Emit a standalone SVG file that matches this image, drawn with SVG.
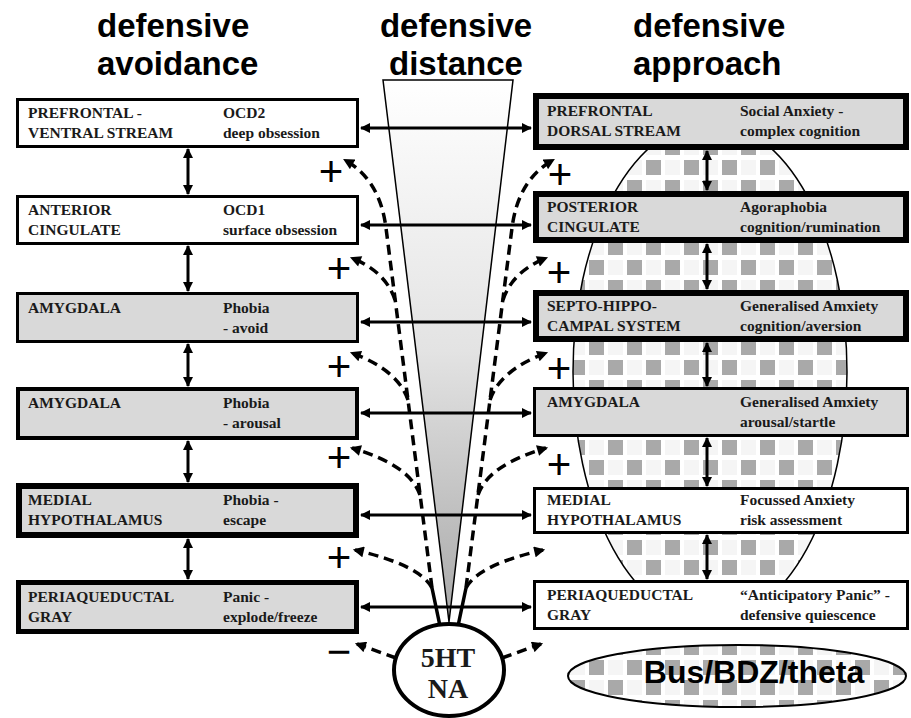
<svg xmlns="http://www.w3.org/2000/svg" width="911" height="718" viewBox="0 0 911 718">
<style>
.title{font-family:"Liberation Sans",Arial,sans-serif;font-weight:bold;font-size:33px;fill:#000}
.bx{stroke:#000}
.g{fill:#d9d9d9}
.w{fill:#fff}
.t{font-family:"Liberation Serif","Times New Roman",serif;font-weight:bold;font-size:15.5px;fill:#1a1a1a}
.sign{font-family:"Liberation Sans",Arial,sans-serif;font-size:42px;fill:#000;text-anchor:middle}
.sol{stroke:#000;stroke-width:3;fill:none;marker-start:url(#ah);marker-end:url(#ah)}
.dash{stroke:#000;stroke-width:3.5;fill:none;stroke-dasharray:10 6}
.dar{marker-end:url(#dh)}
.big{font-family:"Liberation Serif","Times New Roman",serif;font-weight:bold;font-size:28px;fill:#1a1a1a;text-anchor:middle}
</style>
<defs>
<marker id="ah" viewBox="0 0 10 10" refX="9" refY="5" markerWidth="11" markerHeight="10" markerUnits="userSpaceOnUse" orient="auto-start-reverse"><path d="M0,0L10,5L0,10z"/></marker>
<marker id="dh" viewBox="0 0 10 10" refX="8" refY="5" markerWidth="12" markerHeight="11" markerUnits="userSpaceOnUse" orient="auto"><path d="M0,0L10,5L0,10z"/></marker>
<linearGradient id="wg" x1="0" y1="0" x2="0" y2="1"><stop offset="0" stop-color="#fff"/><stop offset="0.5" stop-color="#e3e3e3"/><stop offset="1" stop-color="#a8a8a8"/></linearGradient>
<pattern id="chk" patternUnits="userSpaceOnUse" width="38" height="40"><rect width="38" height="40" fill="#fff"/><rect x="0" y="0" width="15" height="15" fill="#a9a9a9"/><rect x="19" y="20" width="15" height="15" fill="#a9a9a9"/><rect x="19" y="0" width="15" height="15" fill="#f5f5f5"/><rect x="0" y="20" width="15" height="15" fill="#f5f5f5"/></pattern>
</defs>

<g id="titles">
<text class="title" x="97" y="37">defensive</text>
<text class="title" x="97" y="75">avoidance</text>
<text class="title" x="456" y="37" text-anchor="middle">defensive</text>
<text class="title" x="456" y="75" text-anchor="middle">distance</text>
<text class="title" x="633" y="37">defensive</text>
<text class="title" x="633" y="75">approach</text>
</g>

<g id="bzd-field">
<ellipse cx="710" cy="372" rx="137" ry="250" fill="url(#chk)" stroke="#000" stroke-width="1.5"/>
</g>

<g id="distance-wedge">
<polygon points="383,80 513,80 449,622" fill="url(#wg)" stroke="#000" stroke-width="1.5"/>
</g>

<g id="connectors">
<line class="sol" x1="361" y1="128" x2="531" y2="128"/>
<line class="sol" x1="361" y1="225" x2="531" y2="225"/>
<line class="sol" x1="361" y1="322" x2="531" y2="322"/>
<line class="sol" x1="361" y1="413" x2="531" y2="413"/>
<line class="sol" x1="361" y1="515" x2="531" y2="515"/>
<line class="sol" x1="361" y1="607" x2="531" y2="607"/>
<line class="sol" x1="188" y1="149" x2="188" y2="194"/>
<line class="sol" x1="188" y1="246" x2="188" y2="291"/>
<line class="sol" x1="188" y1="344" x2="188" y2="386"/>
<line class="sol" x1="188" y1="441" x2="188" y2="482"/>
<line class="sol" x1="188" y1="539" x2="188" y2="579"/>
<line class="sol" x1="707" y1="151" x2="707" y2="190"/>
<line class="sol" x1="707" y1="244" x2="707" y2="289"/>
<line class="sol" x1="707" y1="343" x2="707" y2="386"/>
<line class="sol" x1="707" y1="438" x2="707" y2="486"/>
<line class="sol" x1="707" y1="535" x2="707" y2="579"/>
<path d="M440,626 L432,588 M458,626 L466,588" stroke="#000" stroke-width="3.5" fill="none"/>
<path class="dash dar" d="M432,588 L386,228 Q380,180 345,160"/>
<path class="dash dar" d="M395,300 Q386,272 352,258"/>
<path class="dash dar" d="M408,400 Q398,370 352,353"/>
<path class="dash dar" d="M420,495 Q410,465 352,448"/>
<path class="dash dar" d="M432,588 Q420,565 355,550"/>
<path class="dash dar" d="M396,658 L357,644"/>
<path class="dash dar" d="M466,588 L512,228 Q518,180 553,160"/>
<path class="dash dar" d="M503,300 Q512,272 546,258"/>
<path class="dash dar" d="M490,400 Q500,370 546,353"/>
<path class="dash dar" d="M478,495 Q488,465 546,448"/>
<path class="dash dar" d="M466,588 Q478,565 543,550"/>
<path class="dash dar" d="M502,658 L541,644"/>
</g>

<g id="signs">
<text class="sign" x="331" y="186">+</text>
<text class="sign" x="339" y="283">+</text>
<text class="sign" x="339" y="381">+</text>
<text class="sign" x="339" y="472">+</text>
<text class="sign" x="339" y="572">+</text>
<text class="sign" x="339" y="666">−</text>
<text class="sign" x="560" y="189">+</text>
<text class="sign" x="559" y="287">+</text>
<text class="sign" x="559" y="383">+</text>
<text class="sign" x="559" y="479">+</text>
</g>

<g id="L1"><rect class="bx w" x="17.5" y="99.5" width="340" height="47" stroke-width="3"/>
<text class="t" x="28" y="118">PREFRONTAL -</text><text class="t" x="28" y="138">VENTRAL STREAM</text>
<text class="t" x="223" y="118">OCD2</text><text class="t" x="223" y="138">deep obsession</text></g>
<g id="L2"><rect class="bx w" x="17.5" y="196.5" width="340" height="47" stroke-width="3"/>
<text class="t" x="28" y="215">ANTERIOR</text><text class="t" x="28" y="235">CINGULATE</text>
<text class="t" x="223" y="215">OCD1</text><text class="t" x="223" y="235">surface obsession</text></g>
<g id="L3"><rect class="bx g" x="17.5" y="293.5" width="340" height="48" stroke-width="3"/>
<text class="t" x="28" y="313">AMYGDALA</text>
<text class="t" x="223" y="313">Phobia</text><text class="t" x="223" y="333">- avoid</text></g>
<g id="L4"><rect class="bx g" x="18" y="389" width="339" height="49" stroke-width="4"/>
<text class="t" x="28" y="408">AMYGDALA</text>
<text class="t" x="223" y="408">Phobia</text><text class="t" x="223" y="428">- arousal</text></g>
<g id="L5"><rect class="bx g" x="19" y="486" width="337" height="49" stroke-width="6"/>
<text class="t" x="28" y="505">MEDIAL</text><text class="t" x="28" y="525">HYPOTHALAMUS</text>
<text class="t" x="223" y="505">Phobia -</text><text class="t" x="223" y="525">escape</text></g>
<g id="L6"><rect class="bx g" x="18.5" y="582.5" width="338" height="49" stroke-width="5"/>
<text class="t" x="28" y="602">PERIAQUEDUCTAL</text><text class="t" x="28" y="622">GRAY</text>
<text class="t" x="223" y="602">Panic -</text><text class="t" x="223" y="622">explode/freeze</text></g>

<g id="R1"><rect class="bx g" x="536" y="96" width="370" height="51" stroke-width="6"/>
<text class="t" x="547" y="116">PREFRONTAL</text><text class="t" x="547" y="136">DORSAL STREAM</text>
<text class="t" x="740" y="116">Social Anxiety -</text><text class="t" x="740" y="136">complex cognition</text></g>
<g id="R2"><rect class="bx g" x="536" y="194" width="370" height="46" stroke-width="6"/>
<text class="t" x="547" y="212">POSTERIOR</text><text class="t" x="547" y="232">CINGULATE</text>
<text class="t" x="740" y="212">Agoraphobia</text><text class="t" x="740" y="232">cognition/rumination</text></g>
<g id="R3"><rect class="bx g" x="536" y="293" width="370" height="46" stroke-width="6"/>
<text class="t" x="547" y="311">SEPTO-HIPPO-</text><text class="t" x="547" y="331">CAMPAL SYSTEM</text>
<text class="t" x="740" y="311">Generalised Amxiety</text><text class="t" x="740" y="331">cognition/aversion</text></g>
<g id="R4"><rect class="bx g" x="534.5" y="388.5" width="373" height="47" stroke-width="3"/>
<text class="t" x="547" y="407">AMYGDALA</text>
<text class="t" x="740" y="407">Generalised Amxiety</text><text class="t" x="740" y="427">arousal/startle</text></g>
<g id="R5"><rect class="bx w" x="534.5" y="488.5" width="373" height="44" stroke-width="3"/>
<text class="t" x="547" y="505">MEDIAL</text><text class="t" x="547" y="525">HYPOTHALAMUS</text>
<text class="t" x="740" y="505">Focussed Anxiety</text><text class="t" x="740" y="525">risk assessment</text></g>
<g id="R6"><rect class="bx w" x="534.5" y="581.5" width="373" height="47" stroke-width="3"/>
<text class="t" x="547" y="600">PERIAQUEDUCTAL</text><text class="t" x="547" y="620">GRAY</text>
<text class="t" x="740" y="600">“Anticipatory Panic” -</text><text class="t" x="740" y="620">defensive quiescence</text></g>

<g id="source"><ellipse cx="449" cy="670" rx="55" ry="46" fill="#fff" stroke="#000" stroke-width="4"/>
<text class="big" x="448" y="667">5HT</text><text class="big" x="448" y="698">NA</text></g>

<g id="bus"><ellipse cx="737" cy="676" rx="169" ry="31" fill="url(#chk)" stroke="#000" stroke-width="2"/>
<text x="754" y="683" text-anchor="middle" font-family="Liberation Sans, Arial, sans-serif" font-weight="bold" font-size="32" fill="#000">Bus/BDZ/theta</text></g>
</svg>
